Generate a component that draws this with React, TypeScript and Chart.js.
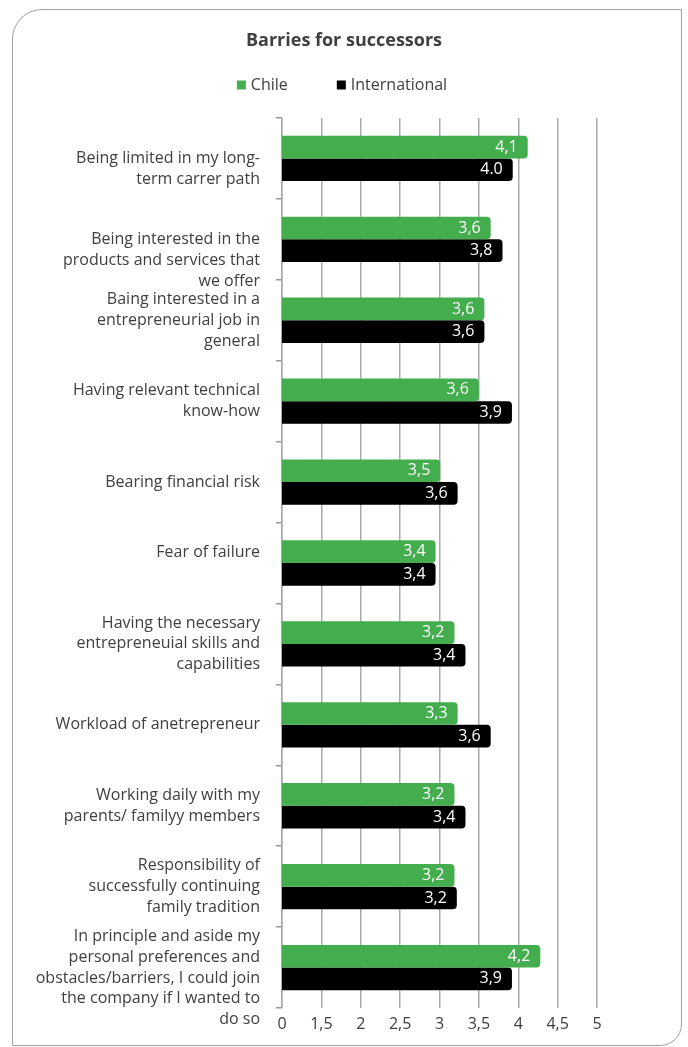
import React, { useEffect, useRef } from "react";
import { Chart, registerables } from "chart.js";

Chart.register(...registerables);

const chartTitle = "Barries for successors";

const categories: (string | string[])[] = [
  ["Being limited in my long-", "term carrer path"],
  ["Being interested in the", "products and services that", "we offer"],
  ["Baing interested in a", "entrepreneurial job in", "general"],
  ["Having relevant technical", "know-how"],
  "Bearing financial risk",
  "Fear of failure",
  ["Having the necessary", "entrepreneuial skills and", "capabilities"],
  "Workload of anetrepreneur",
  ["Working daily with my", "parents/ familyy members"],
  ["Responsibility of", "successfully continuing", "family tradition"],
  [
    "In principle and aside my",
    "personal preferences and",
    "obstacles/barriers, I could join",
    "the company if I wanted to",
    "do so",
  ],
];

// bar lengths
const chileValues = [4.12, 3.65, 3.57, 3.5, 3.01, 2.95, 3.19, 3.23, 3.19, 3.19, 4.28];
const internationalValues = [3.93, 3.8, 3.57, 3.92, 3.23, 2.95, 3.33, 3.65, 3.33, 3.22, 3.92];

// value labels printed on the bars
const chileLabels = ["4,1", "3,6", "3,6", "3,6", "3,5", "3,4", "3,2", "3,3", "3,2", "3,2", "4,2"];
const internationalLabels = ["4.0", "3,8", "3,6", "3,9", "3,6", "3,4", "3,4", "3,6", "3,4", "3,2", "3,9"];

const xTickLabels = ["0", "1,5", "2", "2,5", "3", "3,5", "4", "4,5", "5"];

const seriesNames = ["Chile", "International"];
const seriesColors = ["#44ad4e", "#000000"];

// vertical nudge of category labels, in half-lines (positive = down)
const labelNudge = [1, 2, 0, 0, 0, -1, 0, 0, 0, 0, 1];

const FONT = '"Open Sans", "DejaVu Sans", sans-serif';
const TEXT = "#404040";

const headerPlugin = {
  id: "header",
  afterDraw(chart: any) {
    const ctx = chart.ctx;
    const cx = chart.width / 2;
    ctx.save();
    ctx.fillStyle = TEXT;
    ctx.textBaseline = "middle";
    ctx.textAlign = "center";
    ctx.font = `bold 18px ${FONT}`;
    ctx.fillText(chartTitle, cx, 41);

    ctx.font = `16px ${FONT}`;
    const box = 9;
    const gapBoxText = 5;
    const gapItems = 49;
    const widths = seriesNames.map((n) => box + gapBoxText + ctx.measureText(n).width);
    const total = widths.reduce((a, b) => a + b, 0) + gapItems * (widths.length - 1);
    let x = cx - 2 - total / 2;
    const y = 85;
    ctx.textAlign = "left";
    seriesNames.forEach((n, i) => {
      ctx.fillStyle = seriesColors[i];
      ctx.fillRect(x, y - box / 2, box, box);
      ctx.fillStyle = TEXT;
      ctx.fillText(n, x + box + gapBoxText, y);
      x += widths[i] + gapItems;
    });
    ctx.restore();
  },
};

const valueLabelPlugin = {
  id: "valueLabels",
  afterDatasetsDraw(chart: any) {
    const ctx = chart.ctx;
    const labelSets = [chileLabels, internationalLabels];
    ctx.save();
    ctx.font = `16px ${FONT}`;
    ctx.fillStyle = "#ffffff";
    ctx.textAlign = "right";
    ctx.textBaseline = "middle";
    chart.data.datasets.forEach((_: any, di: number) => {
      const meta = chart.getDatasetMeta(di);
      meta.data.forEach((el: any, i: number) => {
        ctx.fillText(labelSets[di][i], el.x - 10, el.y);
      });
    });
    ctx.restore();
  },
};

function nudgedLabel(i: number) {
  const base = categories[i];
  const lines = Array.isArray(base) ? [...base] : [base];
  const n = labelNudge[i] || 0;
  if (n > 0) for (let k = 0; k < n; k++) lines.unshift("");
  if (n < 0) for (let k = 0; k < -n; k++) lines.push("");
  return lines.length === 1 ? lines[0] : lines;
}

export default function App() {
  const canvasRef = useRef<HTMLCanvasElement | null>(null);

  useEffect(() => {
    if (!canvasRef.current) return;
    const chart = new Chart(canvasRef.current, {
      type: "bar",
      data: {
        labels: categories,
        datasets: [
          {
            label: seriesNames[0],
            data: chileValues,
            backgroundColor: seriesColors[0],
            borderRadius: 4,
            borderSkipped: "start",
            barPercentage: 1,
            categoryPercentage: 0.56,
          },
          {
            label: seriesNames[1],
            data: internationalValues,
            backgroundColor: seriesColors[1],
            borderRadius: 4,
            borderSkipped: "start",
            barPercentage: 1,
            categoryPercentage: 0.56,
          },
        ],
      },
      options: {
        indexAxis: "y",
        responsive: false,
        animation: false,
        layout: { padding: { left: 24, right: 91, top: 118, bottom: 0 } },
        plugins: {
          legend: { display: false },
          title: { display: false },
          tooltip: { enabled: false },
        },
        scales: {
          x: {
            min: 1,
            max: 5,
            afterFit: (scale: any) => {
              scale.height = 39;
            },
            ticks: {
              stepSize: 0.5,
              padding: 7,
              color: TEXT,
              font: { family: FONT, size: 16 },
              callback: (_v: any, i: number) => xTickLabels[i],
            },
            grid: { color: "#aaaaaa", lineWidth: 1.5, drawTicks: false },
            border: { display: false },
          },
          y: {
            afterFit: (scale: any) => {
              scale.width = 258;
              scale.paddingTop = 0;
              scale.paddingBottom = 0;
            },
            ticks: {
              autoSkip: false,
              padding: 16,
              color: TEXT,
              font: { family: FONT, size: 16, lineHeight: 1.3 },
              callback: (_v: any, i: number) => nudgedLabel(i),
            },
            grid: {
              offset: true,
              drawOnChartArea: false,
              drawTicks: true,
              tickLength: 6,
              color: "#999999",
              lineWidth: 1.5,
            },
            border: { display: true, color: "#aaaaaa", width: 1.5 },
          },
        },
      },
      plugins: [headerPlugin, valueLabelPlugin],
    } as any);
    return () => chart.destroy();
  }, []);

  return (
    <div style={{ position: "absolute", left: 0, top: 0, width: 688, height: 1047, overflow: "hidden" }}>
      <div
        style={{
          position: "absolute",
          left: 12,
          top: 9,
          width: 670,
          height: 1037,
          border: "1.5px solid #a0a0a0",
          borderRadius: "30px 0 22px 0",
          boxSizing: "border-box",
        }}
      />
      <canvas ref={canvasRef} width={688} height={1047} style={{ position: "absolute", left: 0, top: 0 }} />
    </div>
  );
}
